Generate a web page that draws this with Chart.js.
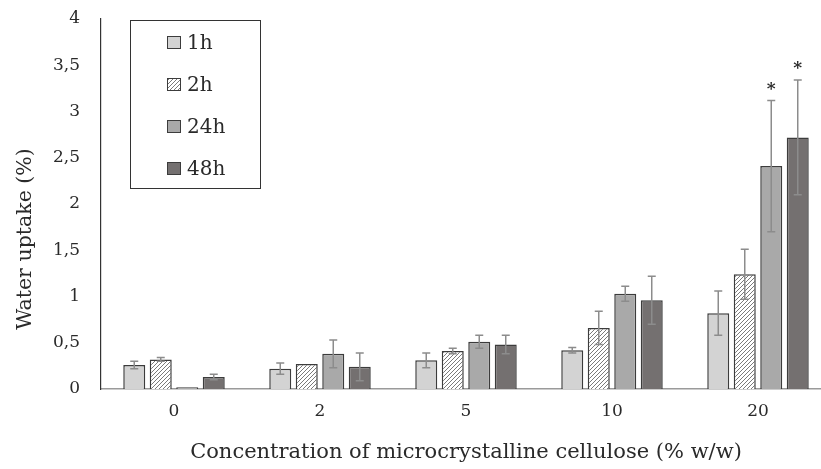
<!DOCTYPE html>
<html>
<head>
<meta charset="utf-8">
<script src="https://cdn.jsdelivr.net/npm/chart.js@4/dist/chart.umd.min.js"></script>
<style>
  html, body { margin: 0; padding: 0; background: #fff; overflow: hidden; }
  canvas { display: block; }
</style>
</head>
<body>
<canvas id="chart" width="832" height="469"></canvas>
<script>
// data
const categories = ['0', '2', '5', '10', '20'];
const seriesLabels = ['1h', '2h', '24h', '48h'];
const uptake1h  = [0.26, 0.22, 0.31, 0.42, 0.82];
const uptake2h  = [0.32, 0.27, 0.41, 0.66, 1.24];
const uptake24h = [0.02, 0.38, 0.51, 1.03, 2.41];
const uptake48h = [0.13, 0.24, 0.48, 0.96, 2.72];
const err1h  = [0.04, 0.06, 0.08, 0.03, 0.24];
const err2h  = [0.02, 0.00, 0.03, 0.18, 0.27];
const err24h = [0.00, 0.15, 0.07, 0.08, 0.71];
const err48h = [0.03, 0.15, 0.10, 0.26, 0.62];
const star24h = [false, false, false, false, true];
const star48h = [false, false, false, false, true];
const yTicks = [0, 0.5, 1, 1.5, 2, 2.5, 3, 3.5, 4];
const yTitle = 'Water uptake (%)';
const xTitle = 'Concentration of microcrystalline cellulose (% w/w)';

const FONT = '"DejaVu Serif", serif';
const INK = '#2a2a2a';

// diagonal hatch for the 2h bars
function makeHatch() {
    const c = document.createElement('canvas');
    c.width = 4; c.height = 4;
    const g = c.getContext('2d');
    g.fillStyle = '#ffffff';
    g.fillRect(0, 0, 4, 4);
    g.strokeStyle = '#7a7a7a';
    g.lineWidth = 1;
    g.beginPath();
    g.moveTo(0, 4); g.lineTo(4, 0);
    g.moveTo(-1, 1); g.lineTo(1, -1);
    g.moveTo(3, 5); g.lineTo(5, 3);
    g.stroke();
    return document.getElementById('chart').getContext('2d').createPattern(c, 'repeat');
}
const hatch = makeHatch();

const fills = ['#d3d3d3', hatch, '#a9a9a9', '#747070'];
const values = [uptake1h, uptake2h, uptake24h, uptake48h];
const errors = [err1h, err2h, err24h, err48h];
const stars = [null, null, star24h, star48h];

const datasets = seriesLabels.map((lab, i) => ({
    label: lab,
    data: values[i],
    backgroundColor: fills[i],
    borderColor: '#3c3c3c',
    borderWidth: 1.5,
    borderSkipped: 'bottom',
    categoryPercentage: 0.726,
    barPercentage: 0.83
}));

const errorBars = {
    id: 'errorBars',
    afterDatasetsDraw(chart) {
        const ctx = chart.ctx;
        const y = chart.scales.y;
        ctx.save();
        chart.data.datasets.forEach((ds, i) => {
            const meta = chart.getDatasetMeta(i);
            meta.data.forEach((bar, j) => {
                const e = errors[i][j];
                const v = ds.data[j];
                const top = y.getPixelForValue(v + e);
                const bot = y.getPixelForValue(Math.max(0, v - e));
                if (e > 0) {
                    ctx.strokeStyle = '#8c8c8c';
                    ctx.lineWidth = 1.5;
                    ctx.beginPath();
                    ctx.moveTo(bar.x, top); ctx.lineTo(bar.x, bot);
                    ctx.moveTo(bar.x - 4, top); ctx.lineTo(bar.x + 4, top);
                    ctx.moveTo(bar.x - 4, bot); ctx.lineTo(bar.x + 4, bot);
                    ctx.stroke();
                }
                if (stars[i] && stars[i][j]) {
                    ctx.fillStyle = INK;
                    ctx.font = 'bold 17px ' + FONT;
                    ctx.textAlign = 'center';
                    ctx.textBaseline = 'middle';
                    ctx.fillText('*', bar.x, top - 11);
                }
            });
        });
        ctx.restore();
    }
};

// boxed legend in the upper left and the y title (sits a bit low in the original)
const boxLegend = {
    id: 'boxLegend',
    afterDraw(chart) {
        const ctx = chart.ctx;
        ctx.save();
        ctx.strokeStyle = '#333';
        ctx.lineWidth = 1;
        ctx.strokeRect(130.5, 20.5, 130, 168);
        chart.data.datasets.forEach((ds, i) => {
            const cy = 42 + i * 42;
            ctx.fillStyle = ds.backgroundColor;
            ctx.fillRect(167, cy - 6, 14, 13);
            ctx.strokeStyle = '#3c3c3c';
            ctx.lineWidth = 1;
            ctx.strokeRect(167.5, cy - 5.5, 13, 12);
            ctx.fillStyle = INK;
            ctx.font = '20px ' + FONT;
            ctx.textAlign = 'left';
            ctx.textBaseline = 'middle';
            ctx.fillText(ds.label, 187, cy + 2);
        });
        ctx.translate(26, 239);
        ctx.rotate(-Math.PI / 2);
        ctx.font = '20.5px ' + FONT;
        ctx.textAlign = 'center';
        ctx.textBaseline = 'middle';
        ctx.fillText(yTitle, 0, 0);
        ctx.restore();
    }
};

new Chart(document.getElementById('chart'), {
    type: 'bar',
    data: { labels: categories, datasets: datasets },
    options: {
        responsive: false,
        animation: false,
        devicePixelRatio: 1,
        layout: { padding: { top: 19, right: 1, left: 0, bottom: 0 } },
        plugins: { legend: { display: false }, tooltip: { enabled: false } },
        scales: {
            x: {
                grid: { display: false, drawTicks: false },
                border: { display: true, color: '#9a9a9a', width: 1.5 },
                ticks: { color: INK, font: { family: FONT, size: 17 }, padding: 12 },
                title: {
                    display: true,
                    text: xTitle,
                    color: INK,
                    font: { family: FONT, size: 21 },
                    padding: { top: 7 }
                },
                afterFit(s) { s.height = 80; s.paddingLeft = 0; s.paddingRight = 0; }
            },
            y: {
                min: 0, max: 4,
                afterBuildTicks(s) { s.ticks = yTicks.map(v => ({ value: v })); },
                grid: { display: false, drawTicks: false },
                border: { display: true, color: '#333', width: 1.2 },
                ticks: {
                    color: INK,
                    font: { family: FONT, size: 17 },
                    padding: 21,
                    callback: v => String(v).replace('.', ',')
                },
                afterFit(s) { s.width = 101; s.paddingTop = 0; s.paddingBottom = 0; }
            }
        }
    },
    plugins: [errorBars, boxLegend]
});
</script>
</body>
</html>
